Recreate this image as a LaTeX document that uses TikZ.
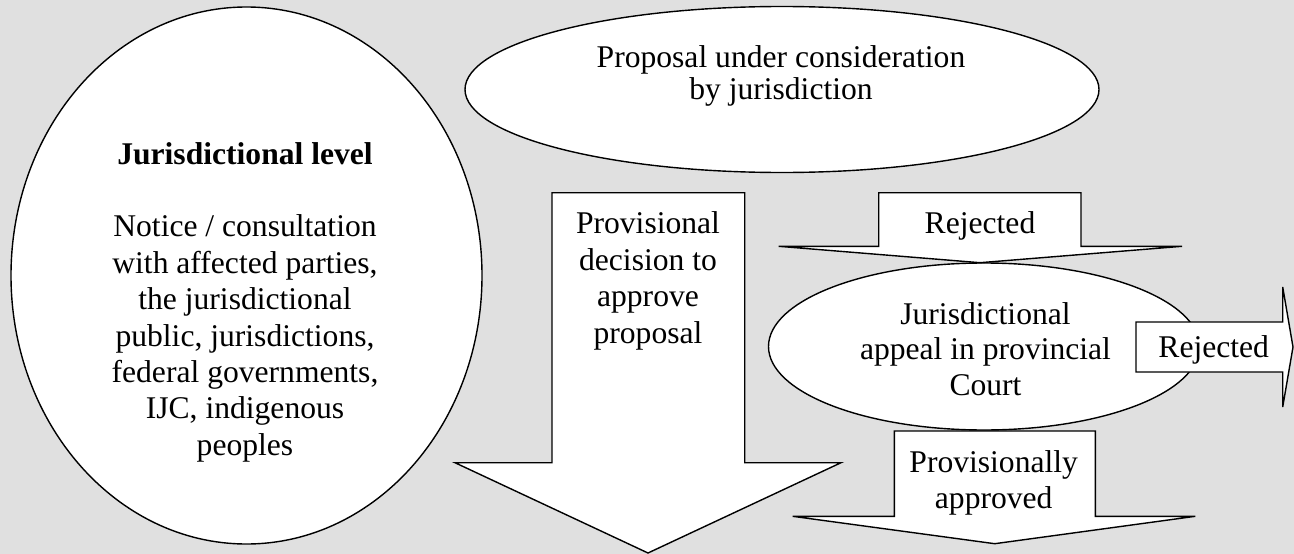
\documentclass[tikz,border=0pt]{standalone}
\usepackage{fontspec}
\setmainfont{Liberation Serif}
\usetikzlibrary{shapes.geometric}
\definecolor{bg}{RGB}{224,224,224}
\begin{document}
\begin{tikzpicture}[x=1pt,y=-1pt,line width=1.4pt,
  shapebox/.style={draw=black,fill=white,line join=miter},
  oval/.style={shapebox,ellipse,inner sep=0pt},
  lbl/.style={align=center,inner sep=0pt,font=\fontsize{31.6}{#1}\selectfont},
  lbl/.default=36.6]
\path[fill=bg] (0,0) rectangle (1294,554);
\useasboundingbox (0,0) rectangle (1294,554);
% left ellipse
\node[oval,minimum width=471pt,minimum height=537pt] (level) at (246.5,275.5) {};
\node[lbl=36.4] (leveltxt) at (245,302) {\textbf{Jurisdictional level}\\[36.4pt]
  Notice / consultation\\with affected parties,\\the jurisdictional\\public, jurisdictions,\\federal governments,\\IJC, indigenous\\peoples};
% top ellipse
\node[oval,minimum width=634pt,minimum height=166pt] (proposal) at (782,89.5) {};
\node[lbl=32.5] (proposaltxt) at (781,76) {Proposal under consideration\\by jurisdiction};
% big down arrow
\path[shapebox] (552,192.7) -- (744.7,192.7) -- (744.7,462.7) -- (841,462.7) -- (648,553)
  -- (455,462.7) -- (552,462.7) -- cycle;
\node[lbl] (provtxt) at (648,281) {Provisional\\decision to\\approve\\proposal};
% middle ellipse
\node[oval,minimum width=431pt,minimum height=167pt] (appeal) at (984,346.5) {};
\node[lbl=35.8] (appealtxt) at (985.5,349) {Jurisdictional\\appeal in provincial\\Court};
% right arrow
\path[shapebox] (1136,322) -- (1282.7,322) -- (1282.7,287) -- (1293,347) -- (1282.7,407)
  -- (1282.7,372) -- (1136,372) -- cycle;
\node[lbl] (rej2) at (1213.7,350) {Rejected};
% top rejected arrow
\path[shapebox] (878.7,192.7) -- (1081,192.7) -- (1081,246.3) -- (1182,246.3) -- (980,262.7)
  -- (778.7,246.3) -- (878.7,246.3) -- cycle;
\node[lbl] (rej1) at (980,226.3) {Rejected};
% provisionally approved arrow
\path[shapebox] (894.3,431) -- (1095.3,431) -- (1095.3,516.3) -- (1195.3,516.3) -- (994.7,543.7)
  -- (792.7,516.3) -- (894.3,516.3) -- cycle;
\node[lbl] (provapp) at (993.7,482.7) {Provisionally\\approved};
\end{tikzpicture}
\end{document}
